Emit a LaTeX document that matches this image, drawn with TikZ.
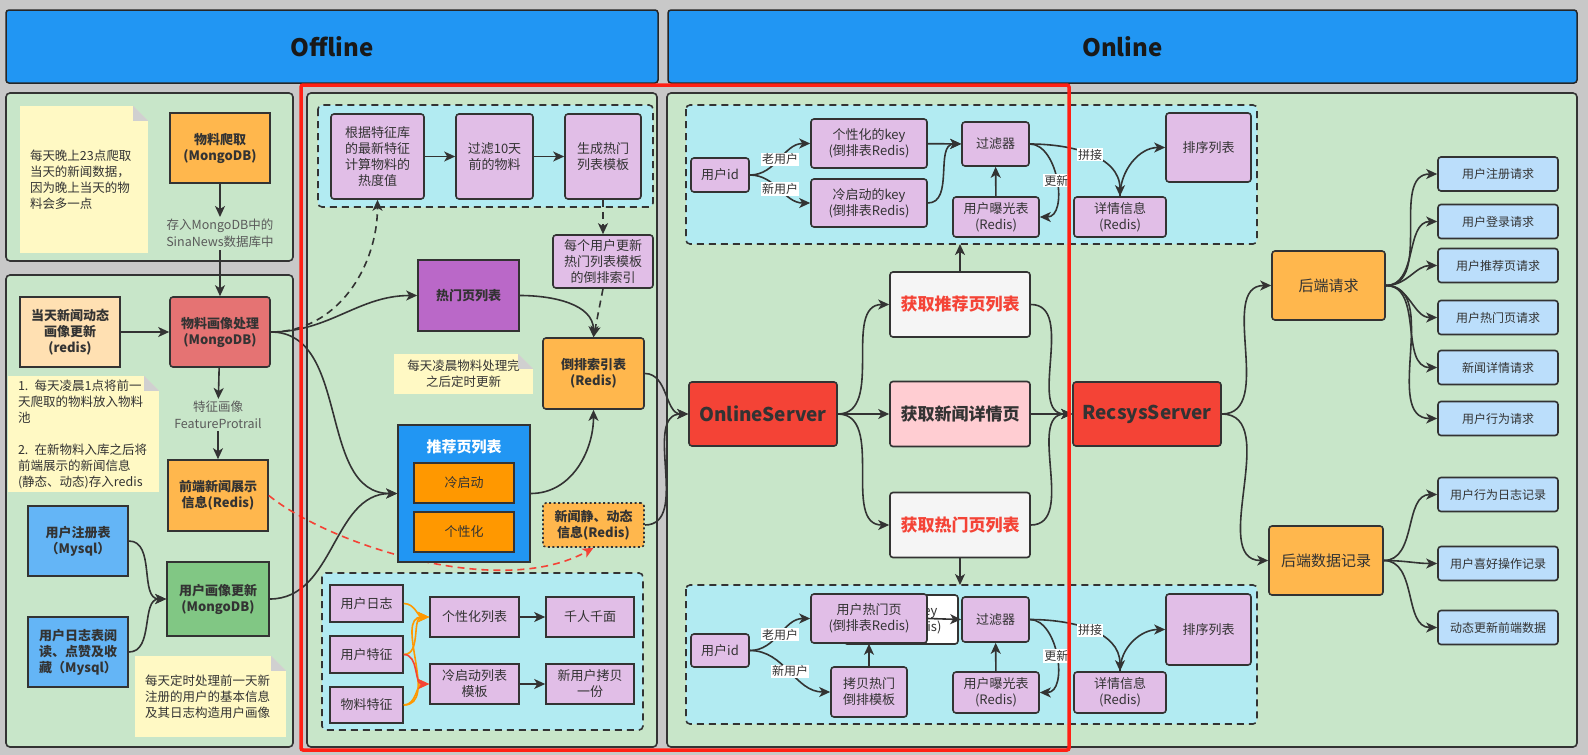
\documentclass[tikz,border=0pt]{standalone}
\usepackage{fontspec}
\setmainfont{Noto Sans CJK SC}
\usepackage{xcolor}
\usetikzlibrary{arrows.meta, positioning}

\definecolor{fond}{HTML}{C8C8C8}
\definecolor{bleuTitre}{HTML}{2196F3}
\definecolor{vertPanneau}{HTML}{C8E6C9}
\definecolor{cyanGroupe}{HTML}{B2EBF2}
\definecolor{lavande}{HTML}{E1BEE7}
\definecolor{jaune}{HTML}{FFF9C4}
\definecolor{orangeClair}{HTML}{FFB74D}
\definecolor{peche}{HTML}{FFE0B2}
\definecolor{saumon}{HTML}{E57373}
\definecolor{bleuMysql}{HTML}{64B5F6}
\definecolor{vertProfil}{HTML}{81C784}
\definecolor{violet}{HTML}{BA68C8}
\definecolor{orangeVif}{HTML}{FF9800}
\definecolor{rouge}{HTML}{F44336}
\definecolor{rose}{HTML}{FFCDD2}
\definecolor{grisClair}{HTML}{F5F5F5}
\definecolor{bleuReq}{HTML}{BBDEFB}
\definecolor{trait}{HTML}{333333}
\definecolor{texte}{HTML}{333333}
\definecolor{gris}{HTML}{5A5A5A}
\definecolor{pli}{HTML}{D0D0D0}
\definecolor{cadreRouge}{HTML}{FF2015}

\begin{document}
\begin{tikzpicture}[
		x=1pt, y=-1pt,
		font=\fontsize{13}{16}\selectfont, text=texte,
		taille/.style 2 args={minimum width=#1pt, minimum height=#2pt},
		boite/.style={draw=trait, line width=1.6pt, rounded corners=3pt, fill=#1, align=center, inner sep=1pt},
		carre/.style={boite=#1, sharp corners},
		gras/.style={font=\fontsize{13}{16}\selectfont\bfseries},
		titre/.style={draw=black!85, line width=1.5pt, fill=bleuTitre, rounded corners=3pt, text=black!90, font=\fontsize{24}{28}\selectfont\bfseries},
		serveur/.style={boite=rouge, taille={148}{64}, font=\fontsize{19}{22}\selectfont\bfseries},
		acces/.style={boite=#1, taille={140}{65}, font=\fontsize{17}{20}\selectfont\bfseries},
		backend/.style={boite=orangeClair, font=\fontsize{15}{18}\selectfont},
		req/.style={boite=bleuReq, taille={120}{34}, font=\fontsize{12}{14}\selectfont},
		note/.style={fill=jaune, align=left, inner sep=0pt, font=\fontsize{12.5}{16}\selectfont},
		legende/.style={fill=vertPanneau, text=gris, align=center, inner sep=2pt, font=\fontsize{12.5}{17}\selectfont},
		etiq/.style={fill=white, inner sep=1pt, font=\fontsize{12}{14}\selectfont},
		fleche/.style={draw=trait, line width=1.6pt, -{Stealth[length=11pt,width=10pt,inset=3pt]}},
		tirets/.style={dash pattern=on 7pt off 5pt},
		groupe/.style={draw=trait, line width=1.6pt, tirets, fill=cyanGroupe, rounded corners=4pt},
		panneau/.style={draw=trait, line width=1.6pt, fill=vertPanneau, rounded corners=4pt},
		]
		
		\useasboundingbox (0,0) rectangle (1588,755);
		\fill[fond] (0,0) rectangle (1588,755);
		
		% Les titres
		\node[titre, taille={652}{73}] (off) at (332,46.5) {Offline};
		\node[titre, taille={909}{73}] (on) at (1122.5,46.5) {Online};
		
		% Les panneaux
		\draw[panneau] (6,93) rectangle (293,261);
		\draw[panneau] (6,275) rectangle (293,747);
		\draw[panneau] (307,93) rectangle (657,747);
		\draw[panneau] (667,93) rectangle (1577,747);
		\draw[groupe] (318,105) rectangle (653,207);
		\draw[groupe] (322,573) rectangle (643,730);
		\draw[groupe] (686,105) rectangle (1257,244);
		\draw[groupe] (686,585) rectangle (1257,724);
		
		% Offline : collecte
		\node[note, taille={128}{147}, text width=108pt, inner xsep=10pt] (n1) at (84,179.5) {每天晚上23点爬取\\当天的新闻数据，\\因为晚上当天的物\\料会多一点};
		\node[carre=orangeClair, taille={100}{70}, gras] (crawl) at (220,148) {物料爬取\\(MongoDB)};
		\node[legende] (lblA) at (220,233.5) {存入MongoDB中的\\SinaNews数据库中};
		
		% Offline : profils
		\node[carre=peche, taille={100}{70}, gras] (today) at (70,332) {当天新闻动态\\画像更新\\(redis)};
		\node[boite=saumon, taille={100}{70}, gras] (mat) at (220,332) {物料画像处理\\(MongoDB)};
		\node[legende] (lblB) at (218,415) {特征画像\\FeatureProtrail};
		\node[carre=orangeClair, taille={100}{71}, gras] (front) at (218,495.5) {前端新闻展示\\信息(Redis)};
		\node[note, taille={151}{116}, text width=131pt, inner xsep=10pt] (n2) at (83.5,434) {1. 每天凌晨1点将前一\\天爬取的物料放入物料\\池\\[16pt]2. 在新物料入库之后将\\前端展示的新闻信息\\(静态、动态)存入redis};
		\node[carre=bleuMysql, taille={100}{70}, gras] (reg) at (78,541) {用户注册表\\（Mysql）};
		\node[carre=bleuMysql, taille={100}{70}, gras] (logt) at (78,652) {用户日志表阅\\读、点赞及收\\藏（Mysql）};
		\node[carre=vertProfil, taille={102}{74}, gras] (uprof) at (218,599) {用户画像更新\\(MongoDB)};
		\node[note, taille={151}{81}, text width=131pt, inner xsep=10pt] (n3) at (210.5,696.5) {每天定时处理前一天新\\注册的用户的基本信息\\及其日志构造用户画像};
		
		% Offline : listes
		\node[boite=lavande, taille={93}{85}] (heat) at (377.5,156.5) {根据特征库\\的最新特征\\计算物料的\\热度值};
		\node[boite=lavande, taille={77}{85}] (filt10) at (494.5,156.5) {过滤10天\\前的物料};
		\node[boite=lavande, taille={76}{85}] (gen) at (603,156.5) {生成热门\\列表模板};
		\node[boite=lavande, taille={100}{53}] (upd) at (603,261.5) {每个用户更新\\热门列表模板\\的倒排索引};
		\node[carre=violet, taille={101}{71}, gras] (hot) at (468.5,295.5) {热门页列表};
		\node[boite=orangeClair, taille={101}{71}, gras] (inv) at (593.5,373.5) {倒排索引表\\(Redis)};
		\node[note, taille={139}{40}, align=center] (n4) at (463.5,374) {每天凌晨物料处理完\\之后定时更新};
		\node[boite=orangeClair, taille={101}{44}, gras, dash pattern=on 2pt off 2.5pt] (news) at (593.5,525) {新闻静、动态\\信息(Redis)};
		% la flèche rouge passe sous le bloc bleu
		\draw[fleche, draw=rouge, tirets] (front.east) .. controls (330,545) and (500,600) .. (news.south);
		\node[carre=bleuTitre, taille={132}{137}] (rec) at (464,493.5) {};
		\node[text=white, font=\fontsize{15}{18}\selectfont\bfseries] (recT) at (464,447) {推荐页列表};
		\node[carre=orangeVif, taille={100}{40}] (cold) at (464,483) {冷启动};
		\node[carre=orangeVif, taille={100}{40}] (pers) at (464,532) {个性化};
		\node[carre=lavande, taille={73}{37}] (ulog) at (366.5,603.5) {用户日志};
		\node[carre=lavande, taille={73}{37}] (ufeat) at (366.5,654.5) {用户特征};
		\node[carre=lavande, taille={73}{36}] (mfeat) at (366.5,705) {物料特征};
		\node[carre=lavande, taille={89}{40}] (plist) at (474.5,617) {个性化列表};
		\node[carre=lavande, taille={89}{40}] (clist) at (474.5,684) {冷启动列表\\模板};
		\node[carre=lavande, taille={88}{40}] (qrqm) at (590,617) {千人千面};
		\node[carre=lavande, taille={88}{40}] (ncopy) at (590,684) {新用户拷贝\\一份};
		
		% les plis des notes
		\foreach \n in {n1,n2,n3,n4} {
			\fill[vertPanneau] ([xshift=-15pt]\n.north east) -- (\n.north east) -- ([yshift=-15pt]\n.north east) -- cycle;
			\fill[pli] ([xshift=-15pt]\n.north east) -- ([xshift=-15pt,yshift=-15pt]\n.north east) -- ([yshift=-15pt]\n.north east) -- cycle;
		}
		
		% Online : serveurs
		\node[serveur] (osrv) at (763,414) {OnlineServer};
		\node[acces=grisClair, text=rouge] (greco) at (960,304.5) {获取推荐页列表};
		\node[acces=rose] (gnews) at (960,414) {获取新闻详情页};
		\node[acces=grisClair, text=rouge] (ghot) at (960,525) {获取热门页列表};
		\node[serveur] (rsrv) at (1147,414) {RecsysServer};
		\coordinate (haut) at (960,244);
		\coordinate (bas) at (960,585);
		
		% Online : recommandation
		\node[boite=lavande, taille={58}{34}] (uid1) at (720,175) {用户id};
		\node[boite=lavande, taille={116}{49}] (pkey) at (869,143.5) {个性化的key\\(倒排表Redis)};
		\node[boite=lavande, taille={116}{48}] (ckey) at (869,203) {冷启动的key\\(倒排表Redis)};
		\node[boite=lavande, taille={67}{44}] (filt1) at (995.5,144) {过滤器};
		\node[boite=lavande, taille={86}{40}] (expo1) at (996,217) {用户曝光表\\(Redis)};
		\node[boite=lavande, taille={92}{40}] (det1) at (1120,217) {详情信息\\(Redis)};
		\node[boite=lavande, taille={85}{69}] (sort1) at (1208.5,147.5) {排序列表};
		
		% Online : page chaude
		\node[boite=lavande, taille={58}{33}] (uid2) at (720,650.5) {用户id};
		\node[boite=white, taille={114}{49}] (fantome) at (901,619.5) {冷启动的key\\(倒排表Redis)};
		\node[boite=lavande, taille={116}{49}] (uhot) at (869,618.5) {用户热门页\\(倒排表Redis)};
		\node[boite=lavande, taille={76}{50}] (copy) at (869,692) {拷贝热门\\倒排模板};
		\node[boite=lavande, taille={67}{45}] (filt2) at (995.5,619.5) {过滤器};
		\node[boite=lavande, taille={86}{41}] (expo2) at (996,692.5) {用户曝光表\\(Redis)};
		\node[boite=lavande, taille={92}{41}] (det2) at (1120,692.5) {详情信息\\(Redis)};
		\node[boite=lavande, taille={85}{71}] (sort2) at (1208.5,629.5) {排序列表};
		
		% Backend
		\node[backend, taille={113}{69}] (breq) at (1328.5,285.5) {后端请求};
		\node[backend, taille={114}{69}] (brec) at (1326,560.5) {后端数据记录};
		\node[req] (r1) at (1498,174) {用户注册请求};
		\node[req] (r2) at (1498,221.5) {用户登录请求};
		\node[req] (r3) at (1498,265.5) {用户推荐页请求};
		\node[req] (r4) at (1498,317.5) {用户热门页请求};
		\node[req] (r5) at (1498,367.5) {新闻详情请求};
		\node[req] (r6) at (1498,418.5) {用户行为请求};
		\node[req] (d1) at (1498,494.5) {用户行为日志记录};
		\node[req] (d2) at (1498,563.5) {用户喜好操作记录};
		\node[req] (d3) at (1498,627.5) {动态更新前端数据};
		
		% Les flèches offline
		\draw[fleche] (crawl) -- (lblA);
		\draw[fleche] (lblA) -- (mat);
		\draw[fleche] (today) -- (mat);
		\draw[fleche] (mat) -- (lblB);
		\draw[fleche] (lblB) -- (front);
		\draw[fleche] (reg.east) to[out=0,in=180] (uprof.west);
		\draw[fleche] (logt.east) to[out=0,in=180] (uprof.west);
		\draw[fleche, tirets] (mat.east) to[out=0,in=-90] (heat.south);
		\draw[fleche] (mat.east) to[out=0,in=180] (hot.west);
		\draw[fleche] (mat.east) to[out=0,in=180] (rec.west);
		\draw[fleche] (uprof.east) to[out=0,in=180] (rec.west);
		\draw[fleche] (heat) -- (filt10);
		\draw[fleche] (filt10) -- (gen);
		\draw[fleche, tirets] (gen) -- (upd);
		\draw[fleche, tirets] (upd.south) -- (inv.north);
		\draw[fleche] (hot.east) to[out=0,in=90] (inv.north);
		\draw[fleche] (rec.east) to[out=0,in=-90] (inv.south);
		\draw[fleche] (inv.east) to[out=0,in=180] (osrv.west);
		\draw[fleche] (news.east) to[out=0,in=180] (osrv.west);
		\draw[fleche, draw=orangeVif] (ulog.east) to[out=0,in=180] (plist.west);
		\draw[fleche, draw=orangeVif] (ufeat.east) to[out=0,in=180] (plist.west);
		\draw[fleche, draw=orangeVif] (mfeat.east) to[out=0,in=180] (plist.west);
		\draw[fleche, draw=orangeVif] (mfeat.east) to[out=0,in=180] (clist.west);
		\draw[fleche, draw=rouge] (ufeat.east) to[out=0,in=180] (clist.west);
		\draw[fleche] (plist) -- (qrqm);
		\draw[fleche] (clist) -- (ncopy);
		
		% Les flèches online
		\draw[fleche] (osrv.east) to[out=0,in=180] (greco.west);
		\draw[fleche] (osrv.east) to[out=0,in=180] (gnews.west);
		\draw[fleche] (osrv.east) to[out=0,in=180] (ghot.west);
		\draw[fleche] (greco.east) to[out=0,in=180] (rsrv.west);
		\draw[fleche] (gnews.east) to[out=0,in=180] (rsrv.west);
		\draw[fleche] (ghot.east) to[out=0,in=180] (rsrv.west);
		\draw[fleche] (greco) -- (haut);
		\draw[fleche] (ghot) -- (bas);
		
		\draw[fleche] (uid1.east) to[out=0,in=180] node[etiq] {老用户} (pkey.west);
		\draw[fleche] (uid1.east) to[out=0,in=180] node[etiq] {新用户} (ckey.west);
		\draw[fleche] (pkey) -- (filt1);
		\draw[fleche] (ckey.east) to[out=0,in=180] (filt1.west);
		\draw[fleche] (expo1) -- (filt1);
		\draw[fleche] (filt1.east) to[out=0,in=0] node[etiq] {更新} (expo1.east);
		\draw[fleche] (filt1.east) to[out=0,in=90] node[etiq] {拼接} (det1.north);
		\draw[fleche] (det1.north) to[out=90,in=180] (sort1.west);
		
		\draw[fleche] (uid2.east) to[out=0,in=180] node[etiq] {老用户} (uhot.west);
		\draw[fleche] (uid2.east) to[out=0,in=180] node[etiq] {新用户} (copy.west);
		\draw[fleche] (copy) -- (uhot);
		\draw[fleche] (uhot.east) -- (filt2.west);
		\draw[fleche] (expo2) -- (filt2);
		\draw[fleche] (filt2.east) to[out=0,in=0] node[etiq] {更新} (expo2.east);
		\draw[fleche] (filt2.east) to[out=0,in=90] node[etiq] {拼接} (det2.north);
		\draw[fleche] (det2.north) to[out=90,in=180] (sort2.west);
		
		% Backend
		\draw[fleche] (rsrv.east) to[out=0,in=180] (breq.west);
		\draw[fleche] (rsrv.east) to[out=0,in=180] (brec.west);
		\draw[fleche] (breq.east) to[out=0,in=180] (r1.west);
		\draw[fleche] (breq.east) to[out=0,in=180] (r2.west);
		\draw[fleche] (breq.east) to[out=0,in=180] (r3.west);
		\draw[fleche] (breq.east) to[out=0,in=180] (r4.west);
		\draw[fleche] (breq.east) to[out=0,in=180] (r5.west);
		\draw[fleche] (breq.east) to[out=0,in=180] (r6.west);
		\draw[fleche] (brec.east) to[out=0,in=180] (d1.west);
		\draw[fleche] (brec.east) to[out=0,in=180] (d2.west);
		\draw[fleche] (brec.east) to[out=0,in=180] (d3.west);
		
		% le cadre rouge
		\draw[cadreRouge, line width=3.5pt, rounded corners=2pt] (301,85) rectangle (1069,750);
	\end{tikzpicture}
\end{document}
